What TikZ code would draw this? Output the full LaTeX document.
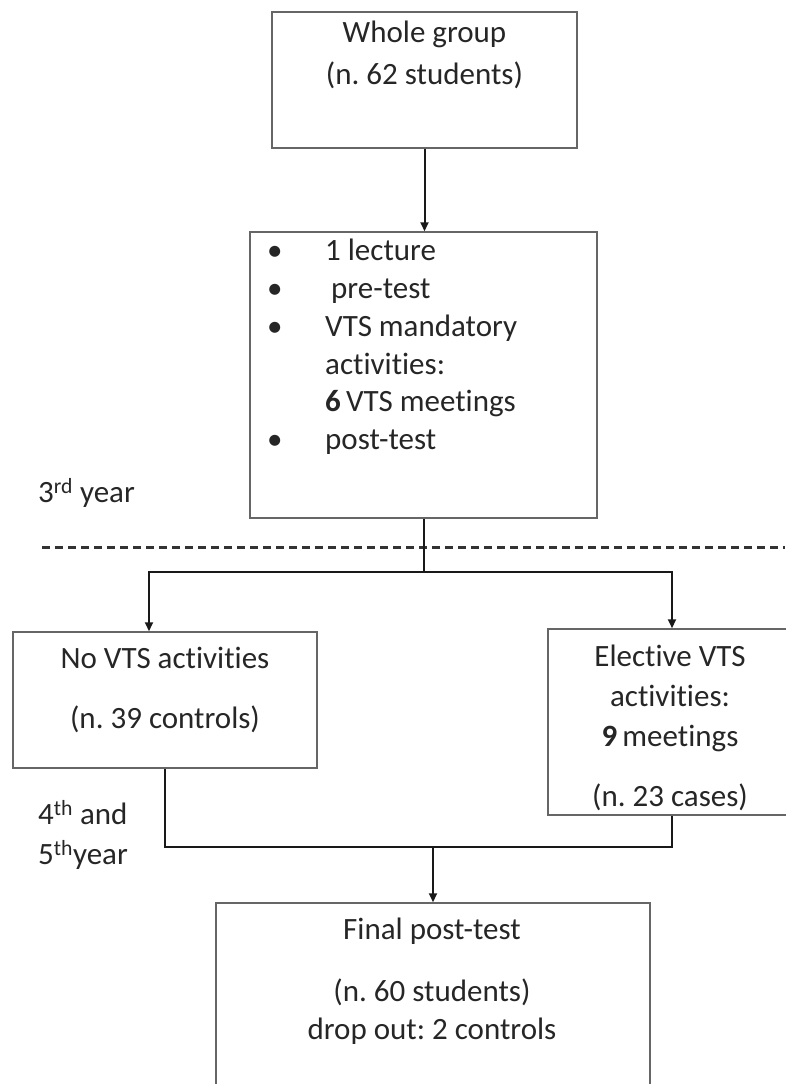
\documentclass[tikz,border=0pt]{standalone}
\usepackage{fontspec}
\setmainfont[Ligatures={NoCommon}]{Carlito}
\frenchspacing
\usetikzlibrary{arrows.meta}
\tikzset{
  x=1pt,
  y=-1pt,
  box/.style={
    draw=black!60,
    line width=1.5pt,
    rectangle,
    inner sep=0pt,
  },
  txt/.style={
    text=black!85,
    font=\fontsize{31}{37.8}\selectfont,
    inner sep=0pt,
  },
  arr/.style={
    draw=black!90,
    line width=2pt,
    -{Triangle[length=9pt,width=8pt]},
  },
  conn/.style={
    draw=black!90,
    line width=2pt,
  },
}

\begin{document}
\begin{tikzpicture}
  \useasboundingbox (0,0) rectangle (785,1084);
  \node[box, minimum width=305pt, minimum height=136pt] (whole) at (424.5,80) {};
  \node[box, minimum width=347pt, minimum height=286pt] (vts) at (423.5,375) {};
  \node[box, minimum width=304pt, minimum height=136pt] (novts) at (165,700) {};
  \node[box, minimum width=244pt, minimum height=186pt] (elect) at (670,722) {};
  \node[box, minimum width=434pt, minimum height=197pt] (final) at (433,1001.5) {};

  \node[txt, align=center] (wholetxt) at (424.5,55) {Whole group\\[4pt](n. 62 students)};
  \node[txt, align=left, anchor=west] (vtstxt) at (267,347) {%
    \makebox[58pt][l]{\textbullet}1 lecture\\
    \makebox[58pt][l]{\textbullet}\hspace{6pt}pre-test\\
    \makebox[58pt][l]{\textbullet}VTS mandatory\\
    \hspace*{58pt}activities:\\
    \hspace*{58pt}\textbf{6}\,VTS meetings\\
    \makebox[58pt][l]{\textbullet}post-test};
  \node[txt, align=center] (novtstxt) at (165,690) {No VTS activities\\[22pt](n. 39 controls)};
  \node[txt, align=center] (electtxt) at (670,728) {Elective VTS\\[2pt]activities:\\[2pt]\textbf{9}\,meetings\\[22pt](n. 23 cases)};
  \node[txt, align=center] (finaltxt) at (432,981) {Final post-test\\[24pt](n. 60 students)\\drop out: 2 controls};

  \node[txt, anchor=west] (third) at (38,493) {3\textsuperscript{rd} year};
  \node[txt, align=left, anchor=west] (fourth) at (38,835) {4\textsuperscript{th} and\\[2pt]5\textsuperscript{th}year};

  \coordinate (dashl) at (42,547);
  \coordinate (dashr) at (785,547);
  \draw[black!80, line width=3pt, dash pattern=on 8pt off 5pt] (dashl) -- (dashr);

  \coordinate (split) at (423.5,572);
  \coordinate (merge) at (433,847);
  \draw[arr] (whole.south) -- (whole.south |- vts.north);
  \draw[conn] (vts.south) -- (split);
  \draw[arr] (split) -| ([xshift=-16pt]novts.north);
  \draw[arr] (split) -| ([xshift=2pt]elect.north);
  \draw[conn] (novts.south) |- (merge);
  \draw[conn] ([xshift=2pt]elect.south) |- (merge);
  \draw[arr] (merge) -- (final.north);
\end{tikzpicture}
\end{document}
